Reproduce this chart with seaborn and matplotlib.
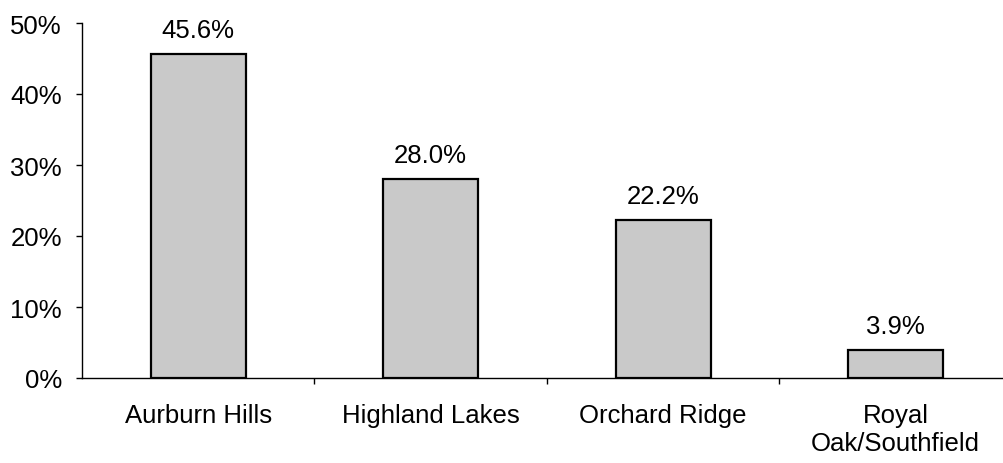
import seaborn as sns
import matplotlib.pyplot as plt
from matplotlib.ticker import FixedLocator, PercentFormatter
import pandas as pd

campuses = ['Aurburn Hills', 'Highland Lakes', 'Orchard Ridge', 'Royal\nOak/Southfield']
shares = [45.6, 28.0, 22.2, 3.9]
yticks = [0, 10, 20, 30, 40, 50]

sns.set_style('white')
plt.rcParams['font.family'] = ['Liberation Sans', 'DejaVu Sans']
plt.rcParams['font.size'] = 18.5
plt.rcParams['text.color'] = 'black'
plt.rcParams['xtick.color'] = 'black'
plt.rcParams['ytick.color'] = 'black'

df = pd.DataFrame({'campus': campuses, 'share': shares})

fig = plt.figure(figsize=(10.04, 4.64), dpi=100)
ax = fig.add_axes([82/1004, 85/464, 922/1004, 355/464])

sns.barplot(data=df, x='campus', y='share', color='#c9c9c9', saturation=1,
            edgecolor='black', linewidth=1.6, width=0.41, ax=ax)

# value labels sit a bit above each bar
ax.bar_label(ax.containers[0], labels=[f'{v:.1f}%' for v in shares],
             padding=9, fontsize=18.5, color='black')

ax.set_ylim(0, 50)
ax.set_xlim(-0.5, 3.466)
ax.set_yticks(yticks)
ax.yaxis.set_major_formatter(PercentFormatter(decimals=0))
ax.set_xlabel('')
ax.set_ylabel('')

sns.despine(ax=ax, top=True, right=True)
for s in ['left', 'bottom']:
    ax.spines[s].set_color('black')
    ax.spines[s].set_linewidth(1.0)

ax.tick_params(axis='y', direction='out', length=4.5, width=1, color='black',
               labelcolor='black', pad=10, labelsize=18.5, left=True)
ax.tick_params(axis='x', which='major', length=0, pad=18, labelsize=18.5,
               labelcolor='black')
# category separators on the x axis
ax.xaxis.set_minor_locator(FixedLocator([0.5, 1.5, 2.5]))
ax.tick_params(axis='x', which='minor', direction='out', length=4.5, width=1,
               color='black', bottom=True)

plt.savefig('out.png', dpi=100)
